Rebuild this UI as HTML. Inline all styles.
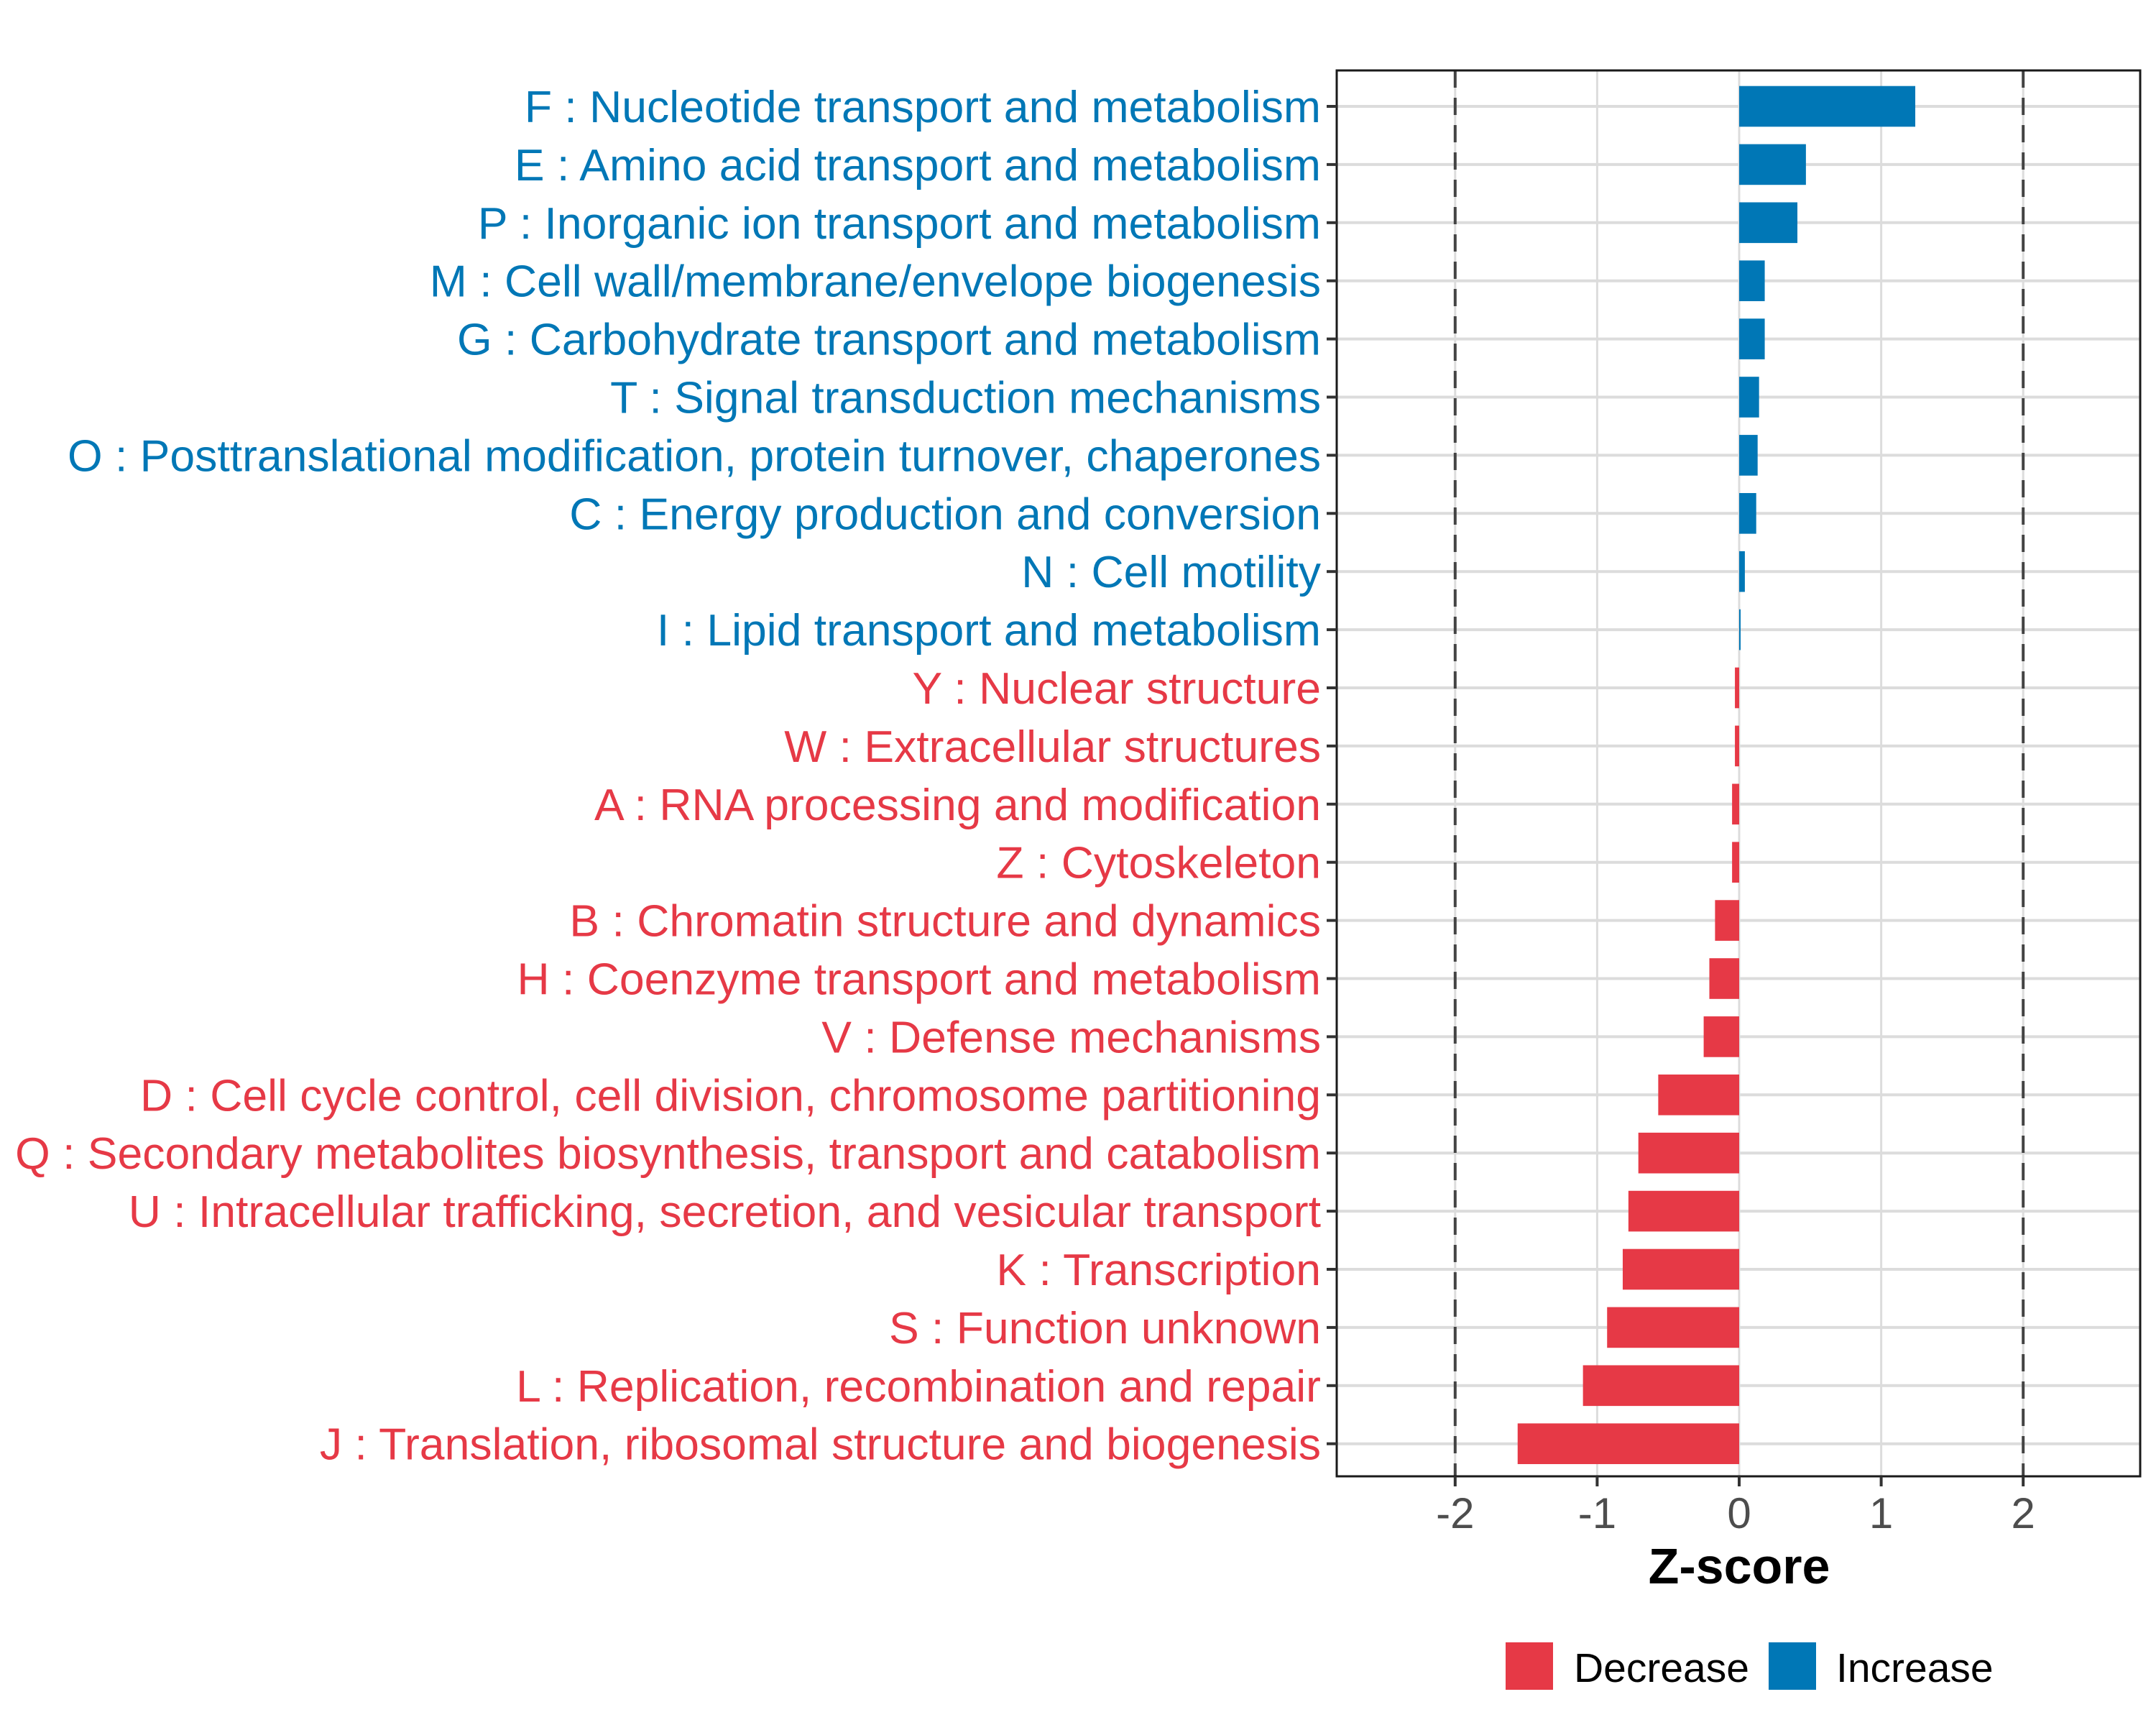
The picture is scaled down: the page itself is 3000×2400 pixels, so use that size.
<!DOCTYPE html>
<html><head><meta charset="utf-8"><style>
html,body{margin:0;padding:0;background:#fff;}
svg{display:block;font-family:"Liberation Sans",sans-serif;}
</style></head><body>
<svg id="chart" width="3000" height="2400" viewBox="0 0 3000 2400"></svg>
<script>
const categories = ["F : Nucleotide transport and metabolism","E : Amino acid transport and metabolism","P : Inorganic ion transport and metabolism","M : Cell wall/membrane/envelope biogenesis","G : Carbohydrate transport and metabolism","T : Signal transduction mechanisms","O : Posttranslational modification, protein turnover, chaperones","C : Energy production and conversion","N : Cell motility","I : Lipid transport and metabolism","Y : Nuclear structure","W : Extracellular structures","A : RNA processing and modification","Z : Cytoskeleton","B : Chromatin structure and dynamics","H : Coenzyme transport and metabolism","V : Defense mechanisms","D : Cell cycle control, cell division, chromosome partitioning","Q : Secondary metabolites biosynthesis, transport and catabolism","U : Intracellular trafficking, secretion, and vesicular transport","K : Transcription","S : Function unknown","L : Replication, recombination and repair","J : Translation, ribosomal structure and biogenesis"];
const zscores = [1.24,0.47,0.41,0.18,0.18,0.14,0.13,0.12,0.04,0.01,-0.03,-0.03,-0.05,-0.05,-0.17,-0.21,-0.25,-0.57,-0.71,-0.78,-0.82,-0.93,-1.10,-1.56];
const xTicks = [-2,-1,0,1,2];
const xTickLabels = ["-2","-1","0","1","2"];
const thresholds = [-2,2];
const legendLabels = ["Decrease","Increase"];

const NS="http://www.w3.org/2000/svg";
const svg=document.getElementById('chart');
const BLUE="#0077b6", RED="#e63946";
const L=1860,R=2978,T=98,B=2054;
const x0=2420, unit=197.6;
const xs=v=>x0+v*unit;
const y0=148, step=80.9;
const ys=i=>y0+i*step;
function mk(tag,attrs,parent){const e=document.createElementNS(NS,tag);for(const k in attrs)e.setAttribute(k,attrs[k]);(parent||svg).appendChild(e);return e;}

const grid=mk('g',{});


xTicks.forEach(t=>{const l=mk('line',{x1:xs(t),x2:xs(t),y1:T,y2:B,stroke:'#dcdcdc','stroke-width':3},grid);

});
categories.forEach((c,i)=>{const l=mk('line',{x1:L,x2:R,y1:ys(i),y2:ys(i),stroke:'#dcdcdc','stroke-width':4},grid);

});

thresholds.forEach(t=>{const l=mk('line',{x1:xs(t),x2:xs(t),y1:T,y2:B,stroke:'#444','stroke-width':4,'stroke-dasharray':'24 14'});

});

const bh=step*0.7;
zscores.forEach((v,i)=>{const xa=Math.min(xs(0),xs(v)),w=Math.abs(xs(v)-xs(0));
const r=mk('rect',{x:xa,y:ys(i)-bh/2,width:Math.max(w,1.5),height:bh,fill:v>=0?BLUE:RED});

});

const frame=mk('rect',{x:L,y:T,width:R-L,height:B-T,fill:'none',stroke:'#1a1a1a','stroke-width':3});



categories.forEach((c,i)=>{
const tk=mk('line',{x1:L-14,x2:L,y1:ys(i),y2:ys(i),stroke:'#333','stroke-width':4});


const t=mk('text',{x:L-22,y:ys(i)+22,'text-anchor':'end','font-size':62.5,fill:zscores[i]>=0?BLUE:RED});
t.textContent=c;

});

xTicks.forEach((v,i)=>{
const tk=mk('line',{x1:xs(v),x2:xs(v),y1:B,y2:B+14,stroke:'#333','stroke-width':4});


const t=mk('text',{x:xs(v),y:B+72,'text-anchor':'middle','font-size':60,fill:'#4d4d4d'});
t.textContent=xTickLabels[i];

});

const xt=mk('text',{x:xs(0),y:2203,'text-anchor':'middle','font-size':70,'font-weight':'bold',fill:'#000'});
xt.textContent='Z-score';



const lg=mk('g',{});


const lgx=[2095,2461],lgc=[RED,BLUE],ltx=[2190,2555];
legendLabels.forEach((lab,i)=>{
const s=mk('rect',{x:lgx[i],y:2285,width:66,height:66,fill:lgc[i]},lg);


const t=mk('text',{x:ltx[i],y:2340,'font-size':57,fill:'#000'},lg);
t.textContent=lab;

});
</script>
</body></html>
